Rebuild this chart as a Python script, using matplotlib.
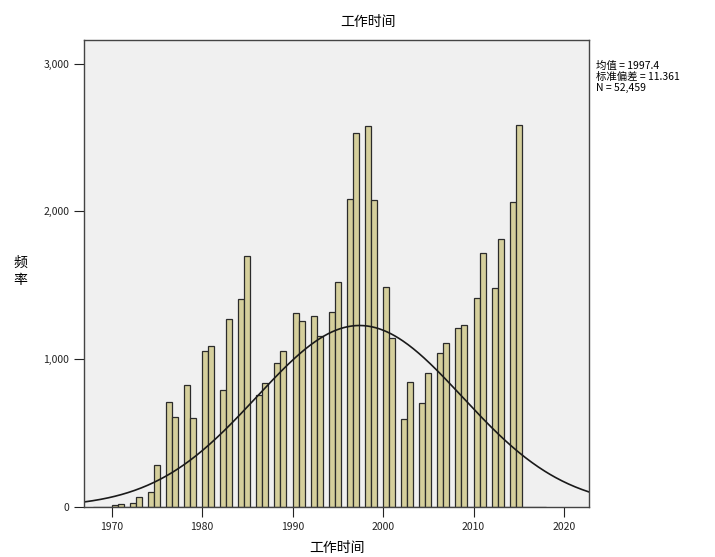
import numpy as np
import matplotlib.pyplot as plt

plt.rcParams['font.family'] = ['Noto Sans CJK SC', 'DejaVu Sans']

# frequency per year
years = np.arange(1970, 2016)
counts = [15, 20, 29, 67, 100, 284,
          713, 611, 824, 605,
          1056, 1092, 792, 1273, 1406, 1699,
          758, 842, 977, 1056,
          1312, 1260, 1295, 1160, 1318, 1521,
          2083, 2530, 2580, 2079,
          1487, 1143, 594, 844, 702, 905,
          1041, 1108, 1210, 1232,
          1412, 1722, 1481, 1812, 2067, 2586]

mean = 1997.4
sd = 11.361
n_total = 52459
bin_w = 2 / 3

fig = plt.figure(figsize=(7.15, 5.57), dpi=100)
ax = fig.add_axes([0.1175, 0.0898, 0.7063, 0.8384])
ax.set_facecolor('#f0f0f0')

edges = 1968 + np.arange(0, 76) * bin_w - 0.001
ax.hist(years, bins=edges, weights=counts, color='#d5cf9c',
        edgecolor='#2b2b2b', linewidth=0.9)

# normal curve
xs = np.linspace(1966, 2024, 400)
ys = n_total * bin_w / (sd * np.sqrt(2 * np.pi)) * np.exp(-0.5 * ((xs - mean) / sd) ** 2)
ax.plot(xs, ys, color='#1a1a1a', lw=1.2)

ax.set_xlim(1966.96, 2022.76)
ax.set_ylim(0, 3160)
ax.set_xticks([1970, 1980, 1990, 2000, 2010, 2020])
ax.set_yticks([0, 1000, 2000, 3000])
ax.set_yticklabels(['0', '1,000', '2,000', '3,000'])
ax.tick_params(direction='out', length=7, width=0.8, labelsize=7.5, colors='#222222')
for s in ax.spines.values():
    s.set_color('#444444')
    s.set_linewidth(1.0)

ax.set_title('工作时间', fontsize=10, pad=10, x=0.563)
ax.set_xlabel('工作时间', fontsize=10, labelpad=7)
fig.text(0.028, 0.512, '频\n率', fontsize=10, ha='center', va='center', linespacing=1.3)

fig.text(0.834, 0.89, '均值 = 1997.4\n标准偏差 = 11.361\nN = 52,459',
         fontsize=7.5, ha='left', va='top', linespacing=1.1)

fig.savefig('out.png', dpi=100, facecolor='white')
